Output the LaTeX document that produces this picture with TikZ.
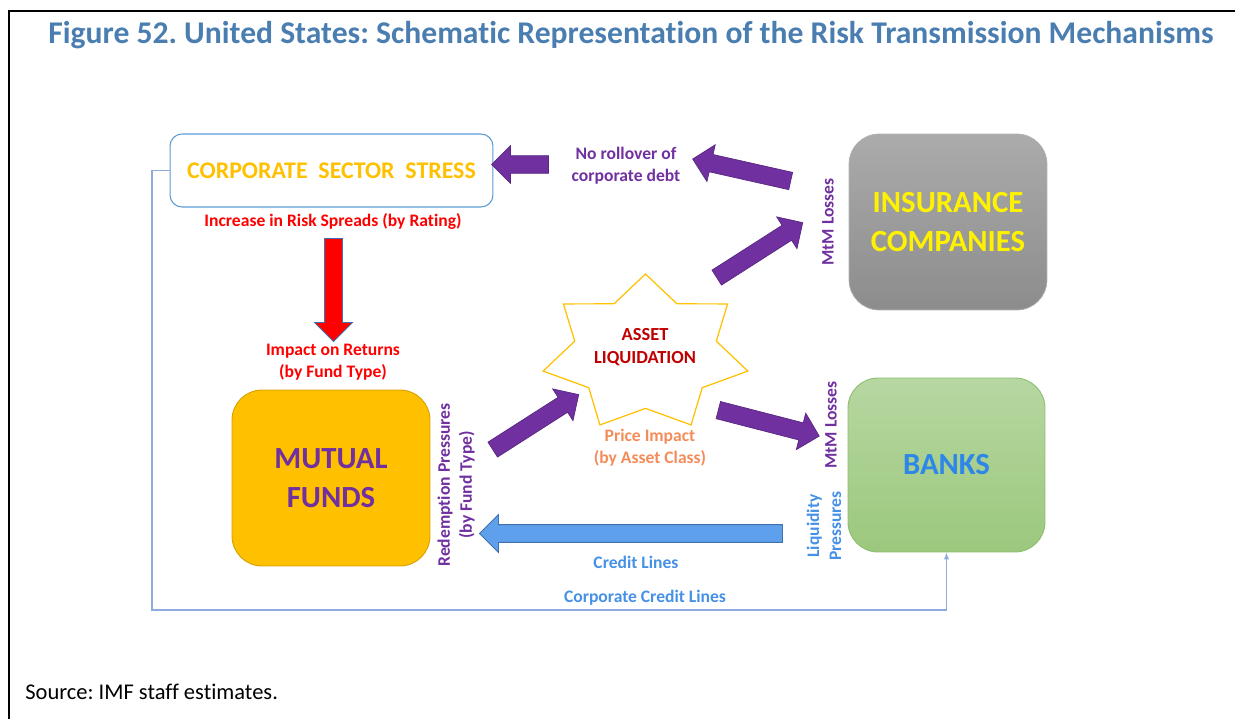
\documentclass[tikz,border=0pt]{standalone}
\usepackage{fontspec}
\setmainfont{Carlito}[Ligatures=NoCommon]
\usetikzlibrary{arrows.meta, shapes.arrows, calc}

\definecolor{titleblue}{RGB}{74,126,177}
\definecolor{gold}{RGB}{255,192,0}
\definecolor{golddark}{RGB}{214,160,0}
\definecolor{violet}{RGB}{112,48,160}
\definecolor{violetdark}{RGB}{88,40,130}
\definecolor{liqred}{RGB}{192,0,0}
\definecolor{pricecol}{RGB}{244,140,90}
\definecolor{bankblue}{RGB}{46,134,232}
\definecolor{lineblue}{RGB}{70,145,230}
\definecolor{arrowblue}{RGB}{95,160,236}
\definecolor{arrowbluedark}{RGB}{65,113,170}
\definecolor{boxblue}{RGB}{91,155,213}
\definecolor{thinblue}{RGB}{143,170,220}
\definecolor{greentop}{RGB}{183,215,162}
\definecolor{greenbot}{RGB}{155,200,125}
\definecolor{greenline}{RGB}{140,190,110}

% block arrow drawn as a rotated single arrow between two points
\newcommand{\blockarrow}[3]{%
  \path let \p1=(#2), \p2=(#3),
    \n1={atan2(\y2-\y1,\x2-\x1)}, \n2={veclen(\x2-\x1,\y2-\y1)} in
    node[#1, rotate=\n1, minimum height={\n2}] at ($(#2)!0.5!(#3)$) {};}

\frenchspacing
\begin{document}
\begin{tikzpicture}[x=0.02cm, y=-0.02cm,
        lbl/.style={font=\bfseries\fontsize{10}{12.5}\selectfont, align=center, inner sep=0pt},
        bigtxt/.style={font=\bfseries\fontsize{17.5}{20}\selectfont, align=center},
        sector/.style={rounded corners=0.6cm, minimum width=3.96cm, minimum height=3.52cm, inner sep=0pt},
        barrow/.style={shape=single arrow, inner xsep=0pt, inner ysep=0.17cm, outer sep=0pt,
                       minimum width=0pt, single arrow head extend=0.2cm, single arrow tip angle=90},
        purplearrow/.style={barrow, fill=violet, draw=violetdark, line width=0.4pt},
        thinline/.style={draw=thinblue, line width=0.6pt}]
  \useasboundingbox (0,0) rectangle (1235,719);
  % frame and title
  \draw[line width=1.3pt] (9,719) -- (9,11) -- (1235,11);
  \node[font=\bfseries\fontsize{18}{21}\selectfont, text=titleblue] (title) at (631,35)
       {Figure 52. United States: Schematic Representation of the Risk Transmission Mechanisms};
  \node[anchor=west, font=\fontsize{12.8}{15}\selectfont, inner sep=0pt] (source) at (25,692)
       {Source: IMF staff estimates.};

  % the four sectors
  \node[draw=boxblue, line width=0.6pt, rounded corners=0.24cm, minimum width=6.46cm,
        minimum height=1.46cm, text=gold, font=\bfseries\fontsize{13.6}{16}\selectfont] (corp)
        at (331.5,170.5) {CORPORATE\ \ SECTOR\ \ STRESS};
  \node[sector, fill=gold, draw=golddark, line width=0.5pt, text=violet, bigtxt] (funds)
        at (331,478) {MUTUAL\\[2pt]FUNDS};
  \node[sector, top color=black!33, bottom color=black!45, draw=black!30, text=yellow, bigtxt] (insur)
        at (948,222) {INSURANCE\\[2pt]COMPANIES};
  \node[sector, minimum width=3.94cm, minimum height=3.48cm, top color=greentop,
        bottom color=greenbot, draw=greenline, line width=0.5pt, text=bankblue, bigtxt] (banks)
        at (946.5,465) {BANKS};

  % asset liquidation star
  \draw[draw=gold, line width=0.7pt] (645.5,274)
    \foreach \k in {1,...,13}{
      -- ({645.5+ifthenelse(isodd(\k),72.6,105)*cos(90+\k*360/14)},
          {353.4-ifthenelse(isodd(\k),55,79.4)*sin(90+\k*360/14)})
    } -- cycle;
  \node[lbl, text=liqred, font=\bfseries\fontsize{10.5}{13}\selectfont] (liq) at (645,347)
       {ASSET\\LIQUIDATION};

  % labels
  \node[lbl, text=red] (spreads) at (333,221) {Increase in Risk Spreads (by Rating)};
  \node[lbl, text=red] (returns) at (333,362) {Impact on Returns\\(by Fund Type)};
  \node[lbl, text=violet] (rollover) at (626,166) {No rollover of\\corporate debt};
  \node[lbl, text=violet, rotate=90] (mtmins) at (828,222) {MtM Losses};
  \node[lbl, text=violet, rotate=90] (mtmbank) at (831,425) {MtM Losses};
  \node[lbl, text=lineblue, rotate=90] (liquidity) at (824,526) {Liquidity\\Pressures};
  \node[lbl, text=violet, rotate=90] (redemption) at (456,485)
       {Redemption Pressures\\(by Fund Type)};
  \node[lbl, text=pricecol] (price) at (650,448) {Price Impact\\(by Asset Class)};
  \node[lbl, text=lineblue] (credit) at (636,562) {Credit Lines};
  \node[lbl, text=lineblue] (corpcredit) at (645,598) {Corporate Credit Lines};

  % end points of the block arrows
  \coordinate (redS) at (333.5,234);
  \coordinate (redE) at (333.5,337);
  \coordinate (fundS) at (489,452);
  \coordinate (fundE) at (575,397);
  \coordinate (bankS) at (714,409);
  \coordinate (bankE) at (815,435);
  \coordinate (insS) at (713,280);
  \coordinate (insE) at (799,225);
  \coordinate (debtS) at (795,182);
  \coordinate (debtE) at (697,160);
  \coordinate (corpS) at (553,164.5);
  \coordinate (corpE) at (496,164.5);
  \coordinate (lineS) at (787,533.5);
  \coordinate (lineE) at (484,533.5);

  \blockarrow{barrow, fill=red, draw=arrowbluedark, line width=0.5pt}{redS}{redE}
  \blockarrow{purplearrow}{fundS}{fundE}
  \blockarrow{purplearrow}{bankS}{bankE}
  \blockarrow{purplearrow}{insS}{insE}
  \blockarrow{purplearrow}{debtS}{debtE}
  \blockarrow{purplearrow}{corpS}{corpE}
  \blockarrow{barrow, fill=arrowblue, draw=arrowbluedark, line width=0.5pt}{lineS}{lineE}

  % corporate credit lines
  \coordinate (bend) at (152,610);
  \draw[thinline, -{Latex[length=4pt,width=3pt]}] (corp.west) -| (bend) -| (banks.south);
\end{tikzpicture}
\end{document}
